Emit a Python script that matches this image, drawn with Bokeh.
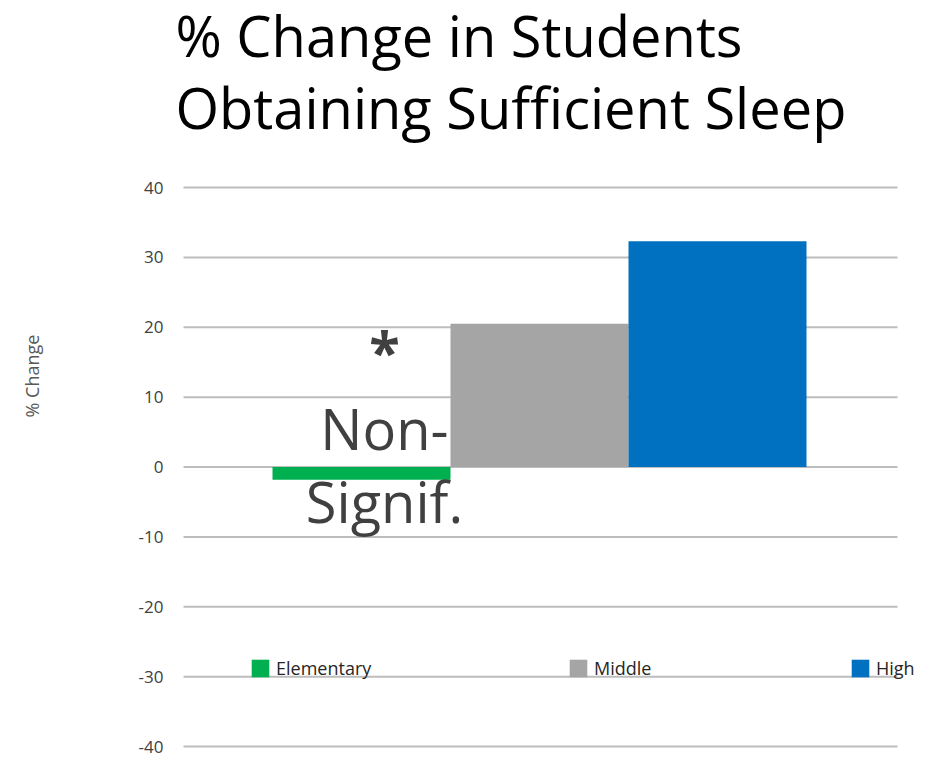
from bokeh.plotting import figure
from bokeh.models import (Range1d, FixedTicker, Label, Legend, LegendItem, ColumnDataSource,
                          PrintfTickFormatter)
from bokeh.embed import file_html
from bokeh.resources import INLINE

categories = ["Elementary", "Middle", "High"]
values = [-1.8, 20.5, 32.3]
colors = ["#00B050", "#A5A5A5", "#0070C0"]
y_ticks = [-40, -30, -20, -10, 0, 10, 20, 30, 40]
title_lines = ["% Change in Students", "Obtaining Sufficient Sleep"]
note_lines = ["*", "Non-", "Signif."]
y_label = "% Change"

FONT = "Open Sans"
W, H = 927, 758
PX_PER_CAT = 178.0
FRAME_LEFT, FRAME_BOTTOM = 170, 751
GRID_LEFT, GRID_RIGHT = 183, 897

x_start = -(GRID_LEFT - FRAME_LEFT) / PX_PER_CAT
x_end = (W - GRID_LEFT) / PX_PER_CAT
grid_end = (GRID_RIGHT - GRID_LEFT) / PX_PER_CAT
x_positions = [i + 1 for i in range(len(categories))]

p = figure(width=W, height=H, title=None,
           x_range=Range1d(x_start, x_end),
           y_range=Range1d(-40.7, 66.76),
           output_backend="svg", toolbar_location=None,
           min_border_left=FRAME_LEFT, min_border_right=0,
           min_border_top=0, min_border_bottom=H - FRAME_BOTTOM)

# horizontal gridlines at the tick values
p.segment(x0=[0] * len(y_ticks), x1=[grid_end] * len(y_ticks), y0=y_ticks, y1=y_ticks,
          line_color="#BDBDBD", line_width=2)

src = ColumnDataSource(dict(x=x_positions, cat=categories, val=values, color=colors))
r = p.vbar(x="x", top="val", bottom=0, width=1.0, fill_color="color", line_color=None, source=src)

p.xaxis.visible = False
p.xgrid.visible = False
p.ygrid.visible = False
p.outline_line_color = None
ax = p.yaxis[0]
ax.ticker = FixedTicker(ticks=y_ticks)
ax.formatter = PrintfTickFormatter(format="%d")
ax.axis_line_color = None
ax.major_tick_line_color = None
ax.minor_tick_line_color = None
ax.major_tick_out = 0
ax.major_tick_in = 0
ax.major_label_standoff = 7
ax.major_label_text_font = FONT
ax.major_label_text_font_size = "17px"
ax.major_label_text_color = "#404040"
ax.axis_label = y_label
ax.axis_label_standoff = 92
ax.axis_label_text_font = FONT
ax.axis_label_text_font_size = "18px"
ax.axis_label_text_font_style = "normal"
ax.axis_label_text_color = "#595959"

# legends, one per item
leg_x = [79, 397, 679]
for i, cat in enumerate(categories):
    leg = Legend(items=[LegendItem(label=cat, renderers=[r], index=i)],
                 location=(leg_x[i], 71), orientation="horizontal",
                 glyph_width=22, glyph_height=22, label_height=22, label_standoff=5,
                 padding=0, margin=0, spacing=0, border_line_color=None,
                 background_fill_alpha=0, label_text_font=FONT,
                 label_text_font_size="18px", label_text_color="#262626")
    p.add_layout(leg)

# two-line title
title_x = -8 / PX_PER_CAT
for txt, y in zip(title_lines, [61.85, 51.5]):
    p.add_layout(Label(x=title_x, y=y, text=txt, text_font=FONT, text_font_size="56px",
                       text_color="black", text_baseline="alphabetic", text_align="left"))

# significance notes
note_x = 1.129
for txt, y, style in zip(note_lines, [16.75, 5.58, -4.9], ["bold", "normal", "normal"]):
    p.add_layout(Label(x=note_x, y=y, text=txt, text_font=FONT, text_font_size="56px",
                       text_font_style=style, text_color="#404040",
                       text_baseline="alphabetic", text_align="center"))

open("out.html", "w").write(file_html(p, INLINE))
